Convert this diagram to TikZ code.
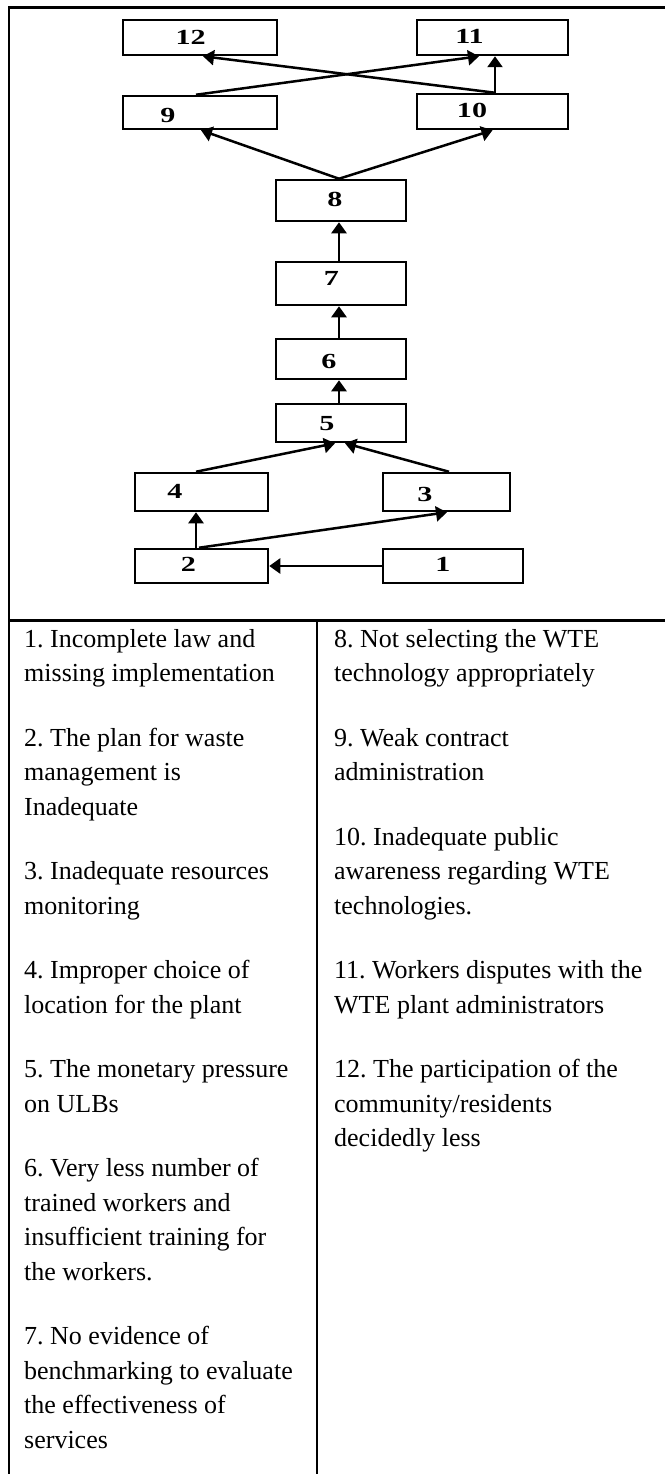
\documentclass[tikz,border=0pt]{standalone}
\usepackage{fontspec}
\usepackage{graphicx}
\setmainfont{Liberation Serif}
\usetikzlibrary{arrows.meta}

% one paragraph of a table cell, one node per printed line
\newcommand\cellpara[4]{%
  \foreach \t [count=\k from 0] in {#4}
    \node[cell] (#1-\k) at (#2, {#3+34.5*\k}) {\t};}

\begin{document}
\frenchspacing
\begin{tikzpicture}[x=1pt, y=-1pt,
  box/.style={draw, line width=2.5pt, inner sep=0pt, rectangle},
  num/.style={inner sep=0pt, font=\fontsize{21.5}{23}\selectfont\bfseries},
  link/.style={line width=2.5pt, -{Triangle[length=11pt, width=15pt]}},
  frame/.style={line width=2.6pt},
  cell/.style={anchor=base west, inner sep=0pt, font=\fontsize{26}{30}\selectfont}]

\useasboundingbox (0,0) rectangle (664,1474);
\fill[white] (0,0) rectangle (664,1474);

% outer frame and table rules
\draw[frame, line cap=rect] (666,7.5) -- (9,7.5) -- (9,1476);
\draw[frame] (9,620.7) -- (666,620.7);
\draw[frame] (317,620.7) -- (317,1476);

% boxes
\node[box, minimum width=154pt, minimum height=35pt] (b12) at (200,37.5) {};
\node[box, minimum width=151pt, minimum height=35pt] (b11) at (492.5,37.5) {};
\node[box, minimum width=154pt, minimum height=33pt] (b9)  at (200,112.5) {};
\node[box, minimum width=151pt, minimum height=35pt] (b10) at (492.5,111.5) {};
\node[box, minimum width=130pt, minimum height=41pt] (b8)  at (341,200.5) {};
\node[box, minimum width=130pt, minimum height=43pt] (b7)  at (341,283.5) {};
\node[box, minimum width=130pt, minimum height=40pt] (b6)  at (341,359) {};
\node[box, minimum width=130pt, minimum height=38pt] (b5)  at (341,423) {};
\node[box, minimum width=133pt, minimum height=38pt] (b4)  at (201.5,492) {};
\node[box, minimum width=127pt, minimum height=38pt] (b3)  at (446.5,492) {};
\node[box, minimum width=133pt, minimum height=34pt] (b2)  at (201.5,566) {};
\node[box, minimum width=140pt, minimum height=34pt] (b1)  at (453,566) {};

% box numbers
\node[num] (n12) at (190.7,37)  {\scalebox{1.4}[1]{12}};
\node[num] (n11) at (469.5,36)  {\scalebox{1.4}[1]{11}};
\node[num] (n9)  at (168,115)   {\scalebox{1.4}[1]{9}};
\node[num] (n10) at (472,110)   {\scalebox{1.4}[1]{10}};
\node[num] (n8)  at (335,199)   {\scalebox{1.4}[1]{8}};
\node[num] (n7)  at (331.5,278) {\scalebox{1.4}[1]{7}};
\node[num] (n6)  at (329,361)   {\scalebox{1.4}[1]{6}};
\node[num] (n5)  at (327,423.5) {\scalebox{1.4}[1]{5}};
\node[num] (n4)  at (175,491)   {\scalebox{1.4}[1]{4}};
\node[num] (n3)  at (425,494.5) {\scalebox{1.4}[1]{3}};
\node[num] (n2)  at (188.5,564.7) {\scalebox{1.4}[1]{2}};
\node[num] (n1)  at (443,564.7) {\scalebox{1.4}[1]{1}};

% connectors
\draw[link] ([xshift=2.5pt]b10.north) -- ([xshift=2.5pt]b11.south);
\draw[link] ([xshift=2.5pt]b10.north) -- ([xshift=3pt]b12.south);
\draw[link] ([xshift=-4pt]b9.north) -- ([xshift=-13.5pt]b11.south);
\draw[link] ([xshift=-2pt]b8.north) -- ([xshift=1pt]b9.south);
\draw[link] ([xshift=-2pt]b8.north) -- (b10.south);
\draw[link] ([xshift=-2pt]b7.north) -- ([xshift=-2pt]b8.south);
\draw[link] ([xshift=-2pt]b6.north) -- ([xshift=-2pt]b7.south);
\draw[link] ([xshift=-2pt]b5.north) -- ([xshift=-2pt]b6.south);
\draw[link] ([xshift=-5.5pt]b4.north) -- ([xshift=-6pt]b5.south);
\draw[link] ([xshift=2.5pt]b3.north) -- ([xshift=4pt]b5.south);
\draw[link] ([xshift=-5.5pt]b2.north) -- ([xshift=-5.5pt]b4.south);
\draw[link] ([xshift=-2.5pt]b2.north) -- ([xshift=0.5pt]b3.south);
\draw[link] (b1.west) -- (b2.east);

% legend, left column
\cellpara{p1}{24}{647}{1. Incomplete law and, missing implementation}
\cellpara{p2}{24}{746}{2. The plan for waste, management is, Inadequate}
\cellpara{p3}{24}{879.5}{3. Inadequate resources, monitoring}
\cellpara{p4}{24}{978.5}{4. Improper choice of, location for the plant}
\cellpara{p5}{24}{1077.5}{5. The monetary pressure, on ULBs}
\cellpara{p6}{24}{1176.5}{6. Very less number of, trained workers and, insufficient training for, the workers.}
\cellpara{p7}{24}{1344.5}{7. No evidence of, benchmarking to evaluate, the effectiveness of, services}

% legend, right column
\cellpara{p8}{334}{647}{8. Not selecting the WTE, technology appropriately}
\cellpara{p9}{334}{746}{9. Weak contract, administration}
\cellpara{p10}{334}{845}{10. Inadequate public, awareness regarding WTE, technologies.}
\cellpara{p11}{334}{978.5}{11. Workers disputes with the, WTE plant administrators}
\cellpara{p12}{334}{1077.5}{12. The participation of the, community/residents, decidedly less}

\end{tikzpicture}
\end{document}
